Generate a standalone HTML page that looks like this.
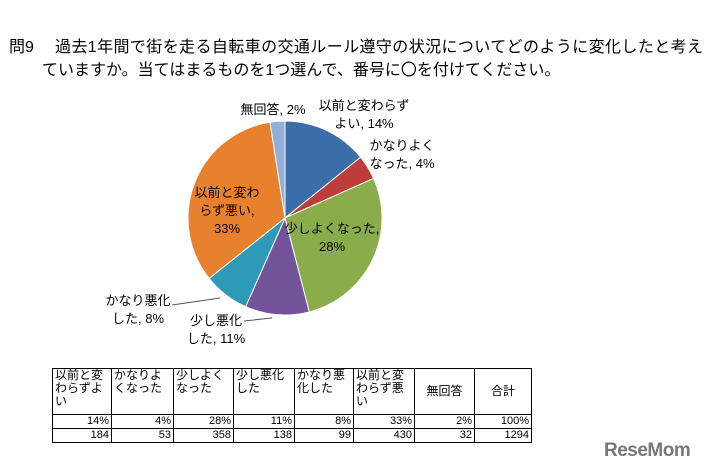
<!DOCTYPE html>
<html><head><meta charset="utf-8"><style>
body{margin:0;width:715px;height:476px;background:#fff;overflow:hidden;font-family:"Liberation Sans","Noto Sans CJK JP",sans-serif;position:relative}
.t{position:absolute;font-size:16px;color:#000;white-space:nowrap;line-height:18px}
table{position:absolute;left:52px;top:368px;border-collapse:collapse;font-size:12px;line-height:13px;table-layout:fixed}
td{border:1px solid #000;padding:0 2px;vertical-align:top;overflow:hidden;word-break:break-all}
tr.h td{height:45px}
tr.n td{text-align:right;height:13px;vertical-align:middle;font-size:11px;line-height:11px}
</style></head><body>
<div class="t" style="left:9px;top:39px">問9</div>
<div class="t" style="left:55px;top:39px;letter-spacing:0.4px">過去1年間で街を走る自転車の交通ルール遵守の状況についてどのように変化したと考え</div>
<div class="t" style="left:42px;top:62px">ていますか。当てはまるものを1つ選んで、番号に〇を付けてください。</div>
<svg id="pie" width="715" height="476" style="position:absolute;left:0;top:0" font-family="Liberation Sans,Noto Sans CJK JP,sans-serif" font-size="13"></svg>
<table>
<colgroup><col style="width:59px"><col style="width:62px"><col style="width:60px"><col style="width:61px"><col style="width:59px"><col style="width:61px"><col style="width:60px"><col style="width:57px"></colgroup>
<tr class="h"><td>以前と変わらずよい</td><td>かなりよくなった</td><td>少しよくなった</td><td>少し悪化した</td><td>かなり悪化した</td><td>以前と変わらず悪い</td><td style="text-align:center;vertical-align:middle">無回答</td><td style="text-align:center;vertical-align:middle">合計</td></tr>
<tr class="n"><td>14%</td><td>4%</td><td>28%</td><td>11%</td><td>8%</td><td>33%</td><td>2%</td><td>100%</td></tr>
<tr class="n"><td>184</td><td>53</td><td>358</td><td>138</td><td>99</td><td>430</td><td>32</td><td>1294</td></tr>
</table>
<div style="position:absolute;left:604px;top:440px;font-size:19px;font-weight:bold;color:#777;letter-spacing:-0.5px">ReseMom</div>
<script>
const categories=["以前と変わらずよい","かなりよくなった","少しよくなった","少し悪化した","かなり悪化した","以前と変わらず悪い","無回答"];
const counts=[184,53,358,138,99,430,32];
const pctLabels=["14%","4%","28%","11%","8%","33%","2%"];
const colors=["#3b6ea8","#be3c39","#8aac4a","#73539a","#2f9ab8","#e8812d","#92aedb"];
const labelLines=[["以前と変わらず","よい, 14%"],["かなりよく","なった, 4%"],["少しよくなった,","28%"],["少し悪化","した, 11%"],["かなり悪化","した, 8%"],["以前と変わ","らず悪い,","33%"],["無回答, 2%"]];
const labelPos=[[364,110],[402,150],[332,233],[216,325],[138,305],[227,197],[273,114]];
const svg=document.getElementById('pie');const NS='http://www.w3.org/2000/svg';
const cx=285,cy=218,r=97;const total=counts.reduce((a,b)=>a+b,0);
let a=0;
counts.forEach((v,i)=>{const a0=a,a1=a+v/total*2*Math.PI;a=a1;
const p=t=>[cx+r*Math.sin(t),cy-r*Math.cos(t)];const [x0,y0]=p(a0),[x1,y1]=p(a1);
const path=document.createElementNS(NS,'path');
path.setAttribute('d',`M${cx},${cy}L${x0},${y0}A${r},${r} 0 ${a1-a0>Math.PI?1:0} 1 ${x1},${y1}Z`);
path.setAttribute('fill',colors[i]);path.setAttribute('stroke','#fff');path.setAttribute('stroke-width','1');


svg.appendChild(path);});
counts.forEach((v,i)=>{
const t=document.createElementNS(NS,'text');t.setAttribute('text-anchor','middle');


labelLines[i].forEach((s,j)=>{const ts=document.createElementNS(NS,'tspan');ts.setAttribute('x',labelPos[i][0]);ts.setAttribute('y',labelPos[i][1]+j*18);ts.textContent=s;t.appendChild(ts);});
svg.appendChild(t);});
[[[172,305],[220,298]],[[244,321],[272,318]]].forEach((pts,k)=>{const l=document.createElementNS(NS,'polyline');l.setAttribute('points',pts.map(q=>q.join(',')).join(' '));l.setAttribute('fill','none');l.setAttribute('stroke','#555');


svg.appendChild(l);});
</script>
</body></html>
